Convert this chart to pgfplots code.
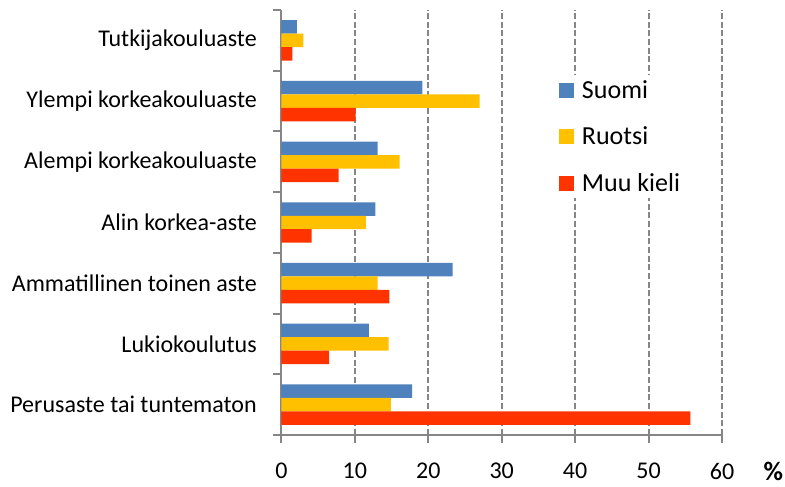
\documentclass[border=0pt]{standalone}
\usepackage{pgfplots}
\pgfplotsset{compat=1.18}
\usepackage{fontspec}
\setmainfont{Carlito}

\definecolor{suomi}{HTML}{4F81BD}
\definecolor{ruotsi}{HTML}{FFC000}
\definecolor{muu}{HTML}{FF3300}
\definecolor{axgray}{HTML}{868686}

\begin{document}
\begin{tikzpicture}
\begin{axis}[
    scale only axis,
    width=330.4pt, height=318.75pt,
    xbar, bar width=0.222,
    xmin=0, xmax=60, ymin=-0.5, ymax=6.5,
    xtick={0,10,...,60},
    ytick={-0.5,0.5,...,6.5},
    y tick label as interval,
    yticklabels={Perusaste tai tuntematon, Lukiokoulutus, Ammatillinen toinen aste,
        Alin korkea-aste, Alempi korkeakouluaste, Ylempi korkeakouluaste, Tutkijakouluaste},
    axis x line*=bottom, axis y line*=left,
    axis line style={axgray, line width=1.5pt},
    tick style={axgray, line width=1.5pt},
    tick align=outside, major tick length=6pt,
    xmajorgrids,
    major grid style={axgray, line width=1.5pt, dash pattern=on 4.5pt off 2pt},
    ticklabel style={font=\fontsize{18}{21.6}\selectfont, text=black},
    xticklabel style={inner sep=0pt, yshift=-15pt},
    yticklabel style={xshift=-9pt},
    /pgf/number format/assume math mode=true,
    clip=false,
    legend cell align=left,
    legend style={at={(rel axis cs:0.621,0.847)}, anchor=north west, draw=none,
        fill=white, font=\fontsize{19.5}{23.4}\selectfont, row sep=15.75pt},
    legend image code/.code={\fill[#1] (0pt,-5.6pt) rectangle (11.25pt,5.6pt);
        \path (15pt,0pt);},
]
\addplot[fill=suomi, draw=none, bar shift=0.222] coordinates {
    (17.8,0) (11.9,1) (23.3,2) (12.8,3) (13.1,4) (19.2,5) (2.1,6)
};
\addplot[fill=ruotsi, draw=none, bar shift=0] coordinates {
    (14.9,0) (14.6,1) (13.1,2) (11.5,3) (16.1,4) (27.0,5) (3.0,6)
};
\addplot[fill=muu, draw=none, bar shift=-0.222] coordinates {
    (55.7,0) (6.5,1) (14.7,2) (4.1,3) (7.8,4) (10.1,5) (1.5,6)
};
\legend{Suomi, Ruotsi, Muu kieli}
\node[font=\fontsize{20}{24}\selectfont\bfseries, inner sep=0pt] at (rel axis cs:1,0) [xshift=38.6pt, yshift=-27.4pt] {\%};
\coordinate (bl) at (rel axis cs:0,0);
\coordinate (tr) at (rel axis cs:1,1);
\end{axis}
\pgfresetboundingbox
\path[use as bounding box] ([shift={(-211.1pt,-38.25pt)}]bl) rectangle ([shift={(47.25pt,7.5pt)}]tr);
\end{tikzpicture}
\end{document}
